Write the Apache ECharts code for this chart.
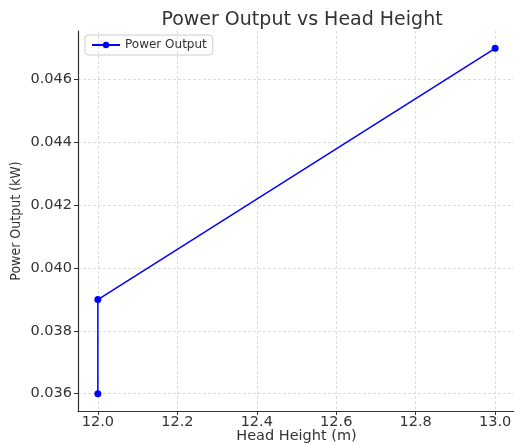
<!DOCTYPE html>
<html>
<head>
<meta charset="utf-8">
<script src="https://cdn.jsdelivr.net/npm/echarts@6/dist/echarts.min.js"></script>
<style>
  html, body { margin: 0; padding: 0; background: #fff; }
  #main { width: 514px; height: 443px; }
</style>
</head>
<body>
<div id="main"></div>
<script>
// data
const headHeight = [12.0, 12.0, 13.0];
const powerOutput = [0.036, 0.039, 0.047];
const xTicks = [12.0, 12.2, 12.4, 12.6, 12.8, 13.0];
const yTicks = [0.036, 0.038, 0.040, 0.042, 0.044, 0.046];

const chart = echarts.init(document.getElementById('main'));
const font = 'DejaVu Sans';

const option = {
  animation: false,
  title: {
    text: 'Power Output vs Head Height',
    left: 297,
    textAlign: 'center',
    top: 6,
    textStyle: { fontFamily: font, fontSize: 19, fontWeight: 'normal', color: '#333' }
  },
  legend: {
    left: 85,
    top: 35,
    padding: [4, 6],
    itemWidth: 28,
    itemHeight: 8,
    itemGap: 6,
    borderColor: '#ccc',
    borderWidth: 1,
    borderRadius: 3,
    textStyle: { fontFamily: font, fontSize: 12, color: '#333' },
    data: ['Power Output']
  },
  grid: { left: 78, right: -1, top: 31, bottom: 32, containLabel: false, outerBoundsMode: 'none' },
  xAxis: {
    type: 'value',
    min: 11.95,
    max: 13.05,
    name: 'Head Height (m)',
    nameLocation: 'middle',
    nameGap: 18,
    nameMoveOverlap: false,
    nameTextStyle: { fontFamily: font, fontSize: 14.5, color: '#333' },
    axisLine: { lineStyle: { color: '#333', width: 1.2 } },
    axisTick: { show: true, length: 4, customValues: xTicks, lineStyle: { color: '#333' } },
    axisLabel: {
      customValues: xTicks,
      fontFamily: font, fontSize: 14.5, color: '#333', margin: 4,
      formatter: v => v.toFixed(1)
    },
    splitLine: { show: true, lineStyle: { color: '#ddd', type: [3, 2] } }
  },
  yAxis: {
    type: 'value',
    min: 0.03545,
    max: 0.04755,
    name: 'Power Output (kW)',
    nameLocation: 'middle',
    nameGap: 55,
    nameMoveOverlap: false,
    nameTextStyle: { fontFamily: 'DejaVu Sans Condensed, Liberation Sans', fontSize: 14, color: '#333' },
    axisLine: { show: true, lineStyle: { color: '#333', width: 1.2 } },
    axisTick: { show: true, length: 4, customValues: yTicks, lineStyle: { color: '#333' } },
    axisLabel: {
      customValues: yTicks,
      fontFamily: font, fontSize: 14.5, color: '#333', margin: 6,
      formatter: v => v.toFixed(3)
    },
    splitLine: { show: true, lineStyle: { color: '#ddd', type: [3, 2] } }
  },
  series: [{
    name: 'Power Output',
    type: 'line',
    data: headHeight.map((h, i) => [h, powerOutput[i]]),
    symbol: 'circle',
    symbolSize: 7,
    color: '#0000ff',
    lineStyle: { color: '#0000ff', width: 1.5 },
    itemStyle: { color: '#0000ff' }
  }]
};

chart.setOption(option);
</script>
</body>
</html>
